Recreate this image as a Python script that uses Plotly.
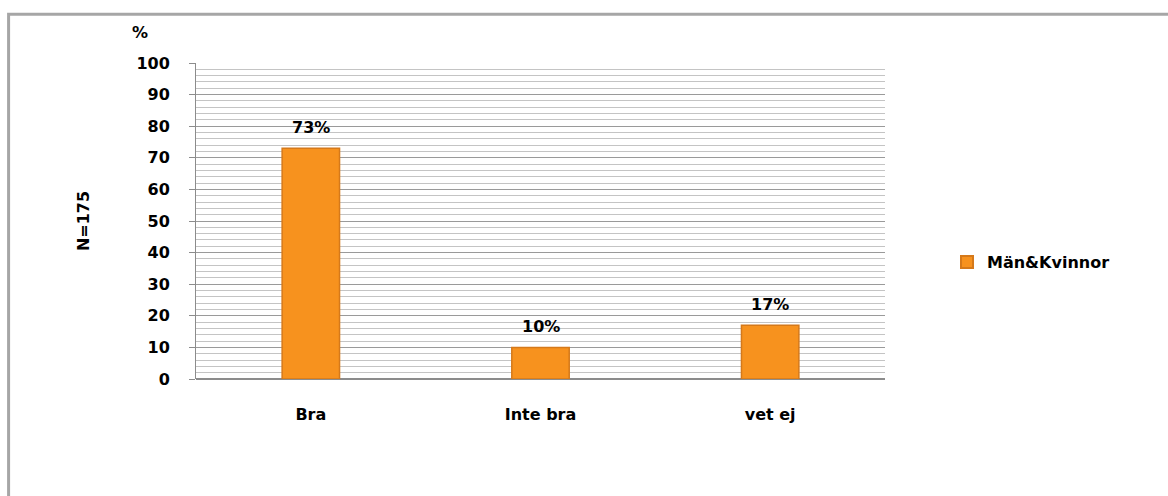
import plotly.graph_objects as go

# Survey answers (percent of respondents, N=175)
categories = ["Bra", "Inte bra", "vet ej"]
values = [73, 10, 17]
value_labels = ["73%", "10%", "17%"]
series_name = "Män&Kvinnor"
y_ticks = [0, 10, 20, 30, 40, 50, 60, 70, 80, 90, 100]

FONT = "DejaVu Sans"
BOLD = dict(family=FONT, size=16, color="black", weight="bold")

fig = go.Figure()
fig.add_trace(go.Bar(
    x=categories,
    y=values,
    name=series_name,
    width=0.25,
    marker=dict(color="#F7921E", line=dict(color="#D5791A", width=1.5)),
    showlegend=True,
))

# Value labels above each bar
for cat, val, lab in zip(categories, values, value_labels):
    fig.add_annotation(
        x=cat, y=val, text=lab, showarrow=False,
        xanchor="center", yanchor="bottom", yshift=9, font=BOLD,
    )

fig.update_layout(
    width=1168,
    height=496,
    margin=dict(l=196, r=283, t=63, b=117),
    paper_bgcolor="white",
    plot_bgcolor="white",
    font=BOLD,
    bargap=0.75,
    showlegend=True,
    legend=dict(
        x=1.09, y=0.37, xanchor="left", yanchor="middle",
        font=BOLD, bgcolor="rgba(0,0,0,0)",
        itemsizing="constant",
    ),
    xaxis=dict(
        showgrid=False,
        showline=False,
        ticks="",
        tickfont=BOLD,
        ticklabelstandoff=24,
    ),
    yaxis=dict(
        range=[0, 100],
        tickvals=y_ticks,
        ticks="outside",
        ticklen=6,
        tickcolor="#8C8C8C",
        tickfont=BOLD,
        ticklabelstandoff=16,
        showline=True,
        linecolor="#8C8C8C",
        linewidth=1,
        showgrid=True,
        gridcolor="#9A9A9A",
        gridwidth=1,
        zeroline=True,
        zerolinecolor="#8C8C8C",
        minor=dict(dtick=2, showgrid=True, gridcolor="#C4C4C4", gridwidth=1),
        title=dict(text="N=175", font=BOLD, standoff=42),
    ),
)

# "%" unit label above the value axis
fig.add_annotation(
    text="%", xref="paper", yref="paper", x=-0.081, y=1.095,
    showarrow=False, font=BOLD, xanchor="center", yanchor="middle",
)

# Outer chart frame
fig.add_shape(
    type="rect", xref="paper", yref="paper",
    x0=-0.272, y0=-0.42, x1=1.45, y1=1.154,
    line=dict(color="#A6A6A6", width=3), fillcolor="rgba(0,0,0,0)",
    layer="below",
)

fig.write_html("out.html")
